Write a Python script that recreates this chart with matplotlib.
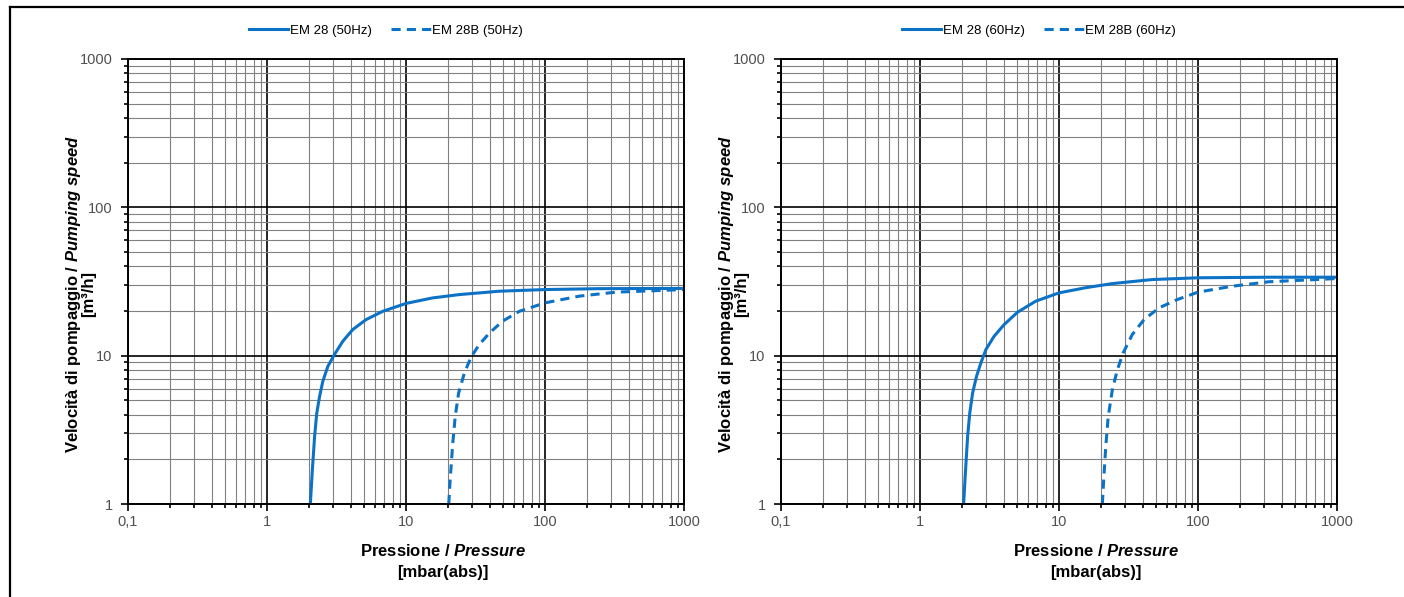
import matplotlib
matplotlib.use("Agg")
import matplotlib.pyplot as plt
from matplotlib.lines import Line2D
from matplotlib.ticker import FixedLocator, LogLocator, NullFormatter

plt.rcParams["font.family"] = ["Liberation Sans", "DejaVu Sans"]
plt.rcParams["mathtext.fontset"] = "custom"
plt.rcParams["mathtext.rm"] = "Liberation Sans"
plt.rcParams["mathtext.bf"] = "Liberation Sans:bold"
plt.rcParams["mathtext.bfit"] = "Liberation Sans:bold:italic"

# pressure [mbar] / pumping speed [m3/h]
p_em28_50 = [2.05, 2.12, 2.20, 2.28, 2.39, 2.52, 2.74, 3.06, 3.51, 4.14, 5.16,
             6.80, 10, 15.5, 24.1, 46.9, 100, 246, 1000]
s_em28_50 = [1.0, 1.70, 2.85, 4.10, 5.31, 6.71, 8.47, 10.2, 12.5, 15.0, 17.5,
             19.9, 22.5, 24.5, 25.8, 27.2, 27.9, 28.3, 28.4]
p_em28b_50 = [20.3, 20.7, 21.7, 22.6, 23.9, 26.3, 29.4, 33.7, 39.8, 49.6, 65.3,
              100, 177, 324, 1000]
s_em28b_50 = [1.0, 1.38, 2.57, 3.89, 5.59, 7.64, 9.80, 11.9, 14.2, 17.1, 19.9,
              22.7, 25.2, 26.8, 27.9]

p_em28_60 = [2.06, 2.12, 2.20, 2.28, 2.39, 2.55, 2.74, 2.98, 3.41, 4.03, 5.02,
             6.80, 10, 15.5, 24.1, 46.9, 100, 324, 1000]
s_em28_60 = [1.0, 1.61, 2.85, 4.10, 5.59, 7.25, 8.92, 11.0, 13.5, 16.2, 19.6,
             23.3, 26.5, 28.7, 30.6, 32.6, 33.5, 33.8, 33.8]
p_em28b_60 = [20.5, 20.9, 21.7, 22.6, 24.2, 26.3, 28.9, 33.7, 40.9, 52.4, 71.0,
              100, 177, 324, 1000]
s_em28b_60 = [1.0, 1.38, 2.44, 3.89, 5.89, 8.04, 10.4, 13.9, 17.5, 21.0, 23.9,
              26.8, 29.4, 31.5, 33.1]

x_ticks = [0.1, 1, 10, 100, 1000]
x_labels = ["0,1", "1", "10", "100", "1000"]
y_ticks = [1, 10, 100, 1000]
y_labels = ["1", "10", "100", "1000"]

x_title = ["Pressione / $\\mathbfit{Pressure}$", "[mbar(abs)]"]
y_title = ["Velocità di pompaggio / $\\mathbfit{Pumping\\ speed}$", "[m³/h]"]

BLUE = "#0B72C6"
W, H = 1404, 597
AX_W, AX_H = 556, 445

fig = plt.figure(figsize=(W / 100, H / 100), dpi=100)

panels = [
    (128, p_em28_50, s_em28_50, p_em28b_50, s_em28b_50, "50Hz", 386),
    (781, p_em28_60, s_em28_60, p_em28b_60, s_em28b_60, "60Hz", 1039),
]

for left, p1, s1, p2, s2, freq, leg_x in panels:
    ax = fig.add_axes([left / W, 1 - 504 / H, AX_W / W, AX_H / H])
    ax.plot(p1, s1, color=BLUE, lw=2.2, label=f"EM 28 ({freq})")
    ax.plot(p2, s2, color=BLUE, lw=2.2, dashes=(3, 2), label=f"EM 28B ({freq})")
    ax.set_xscale("log")
    ax.set_yscale("log")
    ax.set_xlim(0.1, 1000)
    ax.set_ylim(1, 1000)
    ax.xaxis.set_major_locator(FixedLocator(x_ticks))
    ax.set_xticklabels(x_labels)
    ax.yaxis.set_major_locator(FixedLocator(y_ticks))
    ax.set_yticklabels(y_labels)
    for axis in (ax.xaxis, ax.yaxis):
        axis.set_minor_locator(LogLocator(base=10, subs=range(2, 10)))
        axis.set_minor_formatter(NullFormatter())
    ax.grid(which="major", color="black", lw=1.2)
    ax.grid(which="minor", color="#808080", lw=0.8)
    ax.set_axisbelow(True)
    for sp in ax.spines.values():
        sp.set_linewidth(1.4)
    ax.tick_params(which="both", direction="out", colors="black",
                   labelcolor="#505050", labelsize=10.5, width=1.2)
    ax.tick_params(which="major", length=5)
    ax.tick_params(axis="x", which="major", pad=3)
    ax.tick_params(axis="y", which="major", pad=6)
    ax.tick_params(which="minor", length=3)

    # axis titles, one text per line (pixel offsets from the axes box)
    for txt, dy in zip(x_title, (47, 68)):
        ax.text(0.567, -dy / AX_H, txt, transform=ax.transAxes, ha="center",
                va="center", fontsize=12, fontweight="bold")
    for txt, dx in zip(y_title, (54, 39)):
        ax.text(-dx / AX_W, 0.472, txt, transform=ax.transAxes, ha="center",
                va="center", rotation=90, fontsize=12, fontweight="bold")

    fig.legend(*ax.get_legend_handles_labels(), loc="center",
               bbox_to_anchor=(leg_x / W, 1 - 31 / H), ncol=2, frameon=False,
               fontsize=9.5, handlelength=3, columnspacing=1.5, handletextpad=0.1)

# page frame on top and left
fig.add_artist(Line2D([10 / W, 1], [1 - 7 / H, 1 - 7 / H], color="black", lw=1.6))
fig.add_artist(Line2D([10 / W, 10 / W], [0, 1 - 7 / H], color="black", lw=1.6))

fig.savefig("out.png", dpi=100)
